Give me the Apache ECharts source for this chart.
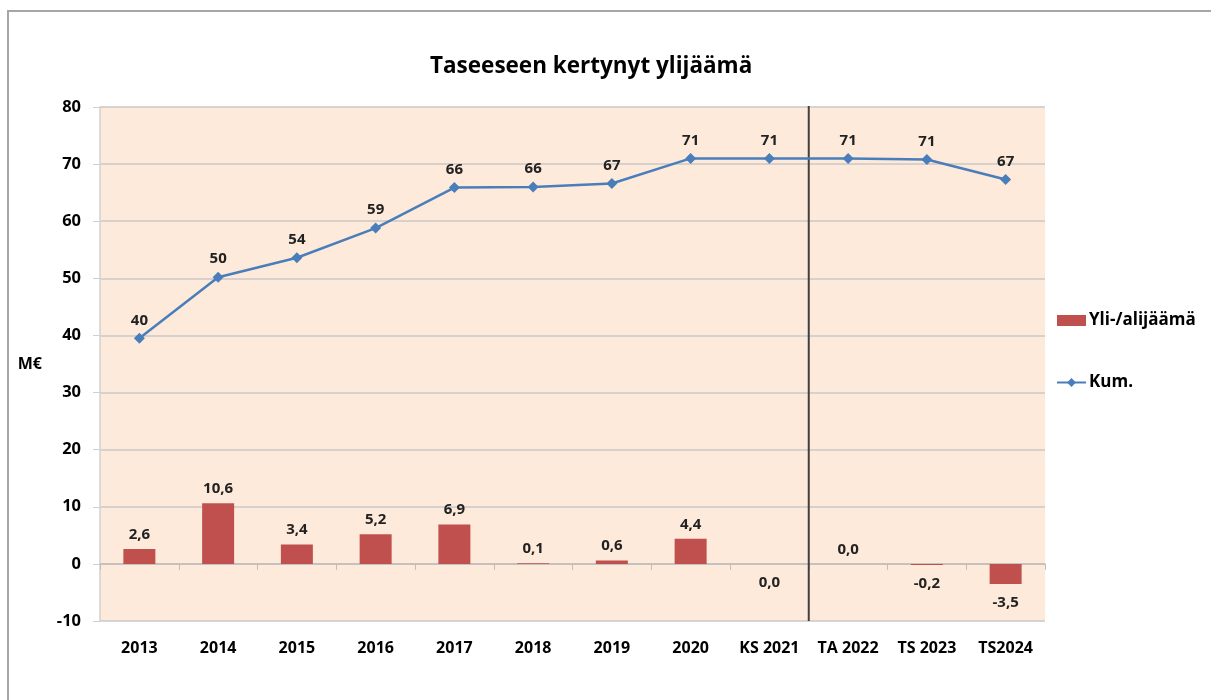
<!DOCTYPE html>
<html>
<head>
<meta charset="utf-8">
<script src="https://cdn.jsdelivr.net/npm/echarts@6/dist/echarts.min.js"></script>
<style>html,body{margin:0;padding:0;background:#fff}#c{width:1211px;height:700px}</style>
</head>
<body>
<div id="c"></div>
<script>
const categories = ['2013','2014','2015','2016','2017','2018','2019','2020','KS 2021','TA 2022','TS 2023','TS2024'];
const yliAlijaama = [2.6, 10.6, 3.4, 5.2, 6.9, 0.1, 0.6, 4.4, -0.04, 0.0, -0.2, -3.5];
const kumulatiivinen = [39.5, 50.2, 53.6, 58.8, 65.9, 66.0, 66.6, 71.0, 71.0, 71.0, 70.8, 67.3];
const dividerIndex = 9;
const yTicks = {min: -10, max: 80, interval: 10};

const FONT = '"Open Sans"';
const fmt1 = v => (Math.abs(v) < 0.05 ? '0,0' : v.toFixed(1).replace('.', ','));

const barData = yliAlijaama.map(v => ({
  value: v,
  label: v < 0 ? {position: 'bottom', distance: 11} : {position: 'top', distance: 7}
}));

const chart = echarts.init(document.getElementById('c'), null, {renderer: 'canvas'});
chart.setOption({
  animation: false,
  backgroundColor: '#ffffff',
  textStyle: {fontFamily: FONT},
  graphic: [{
    type: 'rect', shape: {x: 8, y: 11, width: 1400, height: 900},
    style: {fill: 'none', stroke: '#a6a6a6', lineWidth: 2}, silent: true, z: -10
  }],
  title: {
    text: 'Taseeseen kertynyt ylijäämä',
    left: 425, top: 50,
    textStyle: {fontFamily: FONT, fontWeight: 'bold', fontSize: 22.5, color: '#000'}
  },
  legend: {
    orient: 'vertical', left: 1056, top: 312, itemGap: 45, padding: 0,
    itemWidth: 29, itemHeight: 11,
    textStyle: {fontFamily: FONT, fontWeight: 'bold', fontSize: 17, color: '#000', padding: [0, 0, 0, -2]},
    data: [{name: 'Yli-/alijäämä', icon: 'rect'}, {name: 'Kum.'}]
  },
  grid: {
    left: 100, right: 166, top: 107, bottom: 79,
    show: true, backgroundColor: '#fdeada', borderWidth: 0
  },
  xAxis: [{
    type: 'category', data: categories, position: 'bottom',
    axisLine: {show: true, onZero: true, lineStyle: {color: '#bdbdbd', width: 1.5}},
    axisTick: {show: true, length: 6, lineStyle: {color: '#bdbdbd'}},
    axisLabel: {show: false}, splitLine: {show: false}
  }, {
    type: 'category', data: categories, position: 'bottom',
    axisLine: {show: false, onZero: false}, axisTick: {show: false},
    axisLabel: {show: true, interval: 0, hideOverlap: false, margin: 19, fontFamily: FONT, fontWeight: 'bold', fontSize: 16, color: '#000'},
    splitLine: {show: false}
  }, {
    type: 'value', min: 0, max: categories.length, show: false
  }],
  yAxis: {
    type: 'value', min: yTicks.min, max: yTicks.max, interval: yTicks.interval,
    name: 'M€', nameLocation: 'middle', nameRotate: 0, nameGap: 58,
    nameTextStyle: {fontFamily: FONT, fontWeight: 'bold', fontSize: 16, color: '#000'},
    axisLine: {show: true, lineStyle: {color: '#d0d0d0', width: 1.5}},
    axisTick: {show: true, length: 7, lineStyle: {color: '#d0d0d0'}},
    axisLabel: {margin: 19, fontFamily: FONT, fontWeight: 'bold', fontSize: 16.5, color: '#000'},
    splitLine: {show: true, lineStyle: {color: '#c8c8c8', width: 1.5}}
  },
  series: [{
    name: 'Yli-/alijäämä', type: 'bar', xAxisIndex: 0, data: barData,
    barWidth: 32, itemStyle: {color: '#c0504d'},
    label: {show: true, formatter: p => fmt1(p.value),
      fontFamily: FONT, fontWeight: 'bold', fontSize: 15, color: '#222'}
  }, {
    name: 'Kum.', type: 'line', xAxisIndex: 0, data: kumulatiivinen,
    symbol: 'diamond', symbolSize: 11, lineStyle: {color: '#4a7ebb', width: 2.5},
    itemStyle: {color: '#4a7ebb'}, z: 5,
    label: {show: true, position: 'top', distance: 5, formatter: p => p.value.toFixed(0),
      fontFamily: FONT, fontWeight: 'bold', fontSize: 15, color: '#222'}
  }, {
    name: 'divider', type: 'line', xAxisIndex: 2,
    data: [[dividerIndex, yTicks.min], [dividerIndex, yTicks.max + 0.7]],
    symbol: 'none', lineStyle: {color: '#404040', width: 2}, silent: true, z: 4
  }]
});
</script>
</body>
</html>
